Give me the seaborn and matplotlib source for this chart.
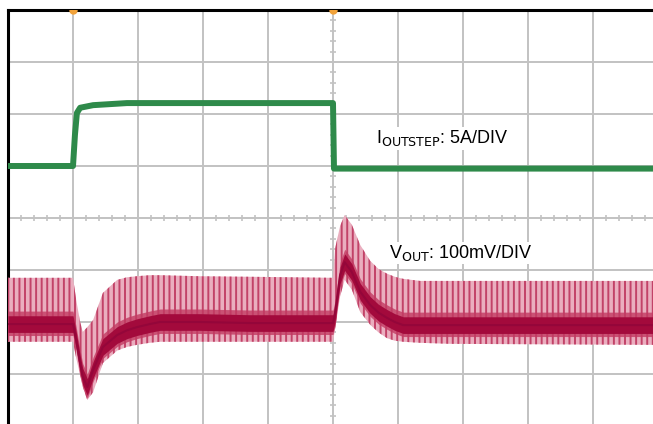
import numpy as np
import pandas as pd
import matplotlib
matplotlib.use("Agg")
import matplotlib.pyplot as plt
import seaborn as sns

# scope traces, time and level both in screen divisions (centre line = 0)
i_time = [0.0, 1.0, 1.03, 1.06, 1.11, 1.31, 1.83, 3.0, 5.0, 5.015, 5.4, 10.0]
i_level = [1.0, 1.0, 1.6, 2.02, 2.12, 2.17, 2.21, 2.21, 2.21, 0.95, 0.95, 0.95]

v_time = [0.0, 1.0, 1.05, 1.11, 1.15, 1.22, 1.31, 1.46, 1.68, 1.83, 1.98, 2.18,
          2.34, 2.95, 3.72, 5.0, 5.03, 5.11, 5.18, 5.29, 5.42, 5.57, 5.7, 5.83,
          5.95, 6.08, 6.34, 6.8, 10.0]
v_mid = [-2.04, -2.04, -2.35, -2.8, -3.05, -3.25, -2.92, -2.48, -2.25, -2.16,
         -2.10, -2.04, -2.0, -2.0, -2.02, -2.02, -1.85, -1.10, -0.85, -1.04,
         -1.42, -1.67, -1.82, -1.92, -2.0, -2.06, -2.06, -2.06, -2.06]
v_top = [-1.15, -1.15, -1.58, -2.0, -2.19, -2.1, -1.96, -1.44, -1.19, -1.14,
         -1.12, -1.10, -1.10, -1.12, -1.13, -1.15, -0.6, -0.15, 0.06, -0.13,
         -0.52, -0.82, -0.98, -1.07, -1.13, -1.17, -1.21, -1.21, -1.21]
v_bot = [-2.38, -2.38, -2.7, -3.02, -3.25, -3.5, -3.35, -2.79, -2.55, -2.48,
         -2.44, -2.40, -2.38, -2.38, -2.38, -2.38, -2.15, -1.5, -1.19, -1.38,
         -1.81, -2.05, -2.2, -2.31, -2.36, -2.38, -2.40, -2.42, -2.44]

trig_marks = [1.0, 5.0]

sns.set_style("white")
plt.rcParams['font.family'] = ['Liberation Sans Narrow', 'Liberation Sans', 'DejaVu Sans']
plt.rcParams['mathtext.fontset'] = 'custom'
plt.rcParams['mathtext.rm'] = 'Liberation Sans Narrow'
plt.rcParams['hatch.linewidth'] = 1.4

fig = plt.figure(figsize=(6.53, 4.24), dpi=100)
ax = fig.add_axes([8 / 653, -2 / 424, 650 / 653, 416 / 424])
ax.set_xlim(0, 10)
ax.set_ylim(-4, 4)

grid_c = '#c2c2c2'
ax.set_xticks(np.arange(0, 11))
ax.set_yticks(np.arange(-4, 5))
ax.grid(True, color=grid_c, linewidth=1.4)
ax.tick_params(length=0, labelbottom=False, labelleft=False)
for s in ['left', 'top']:
    ax.spines[s].set_color('black')
    ax.spines[s].set_linewidth(2.2)
for s in ['right', 'bottom']:
    ax.spines[s].set_visible(False)

# minor ticks on the centre graticule
mx = np.arange(0, 10.01, 0.2)
ax.vlines(mx, -0.06, 0.06, color=grid_c, linewidth=1.2)
my = np.arange(-4, 4.01, 0.2)
ax.hlines(my, 4.95, 5.05, color=grid_c, linewidth=1.2)

vdf = pd.DataFrame({'t': v_time, 'mid': v_mid, 'top': v_top, 'bot': v_bot})
ax.fill_between(vdf['t'], vdf['bot'], vdf['top'], facecolor='#eaaebf',
                edgecolor='#c24268', hatch='|||', linewidth=0, zorder=3)
ax.fill_between(vdf['t'], vdf['mid'] - 0.22, vdf['mid'] + 0.25,
                color='#c23a62', linewidth=0, zorder=4, alpha=0.8)
ax.fill_between(vdf['t'], vdf['mid'] - 0.16, vdf['mid'] + 0.16,
                color='#a30a3c', linewidth=0, zorder=4)
sns.lineplot(data=vdf, x='t', y='mid', color='#94063a', linewidth=1.5,
             estimator=None, sort=False, ax=ax, zorder=5)

idf = pd.DataFrame({'t': i_time, 'lvl': i_level})
sns.lineplot(data=idf, x='t', y='lvl', color='#2e8a4a', linewidth=4.3,
             estimator=None, sort=False, ax=ax, zorder=5)

ax.plot(trig_marks, [4, 4], 'o', color='#f2a33a', ms=5, clip_on=True, zorder=6)

ax.text(5.66, 1.44, r'I$_{\mathrm{OUTSTEP}}$: 5A/DIV', fontsize=13,
        color='black', va='baseline', ha='left', zorder=7,
        bbox=dict(facecolor='white', edgecolor='none', pad=1))
ax.text(5.86, -0.77, r'V$_{\mathrm{OUT}}$: 100mV/DIV', fontsize=13,
        color='black', va='baseline', ha='left', zorder=7,
        bbox=dict(facecolor='white', edgecolor='none', pad=1))

ax.set_xlabel('')
ax.set_ylabel('')
fig.savefig('out.png', dpi=100)
